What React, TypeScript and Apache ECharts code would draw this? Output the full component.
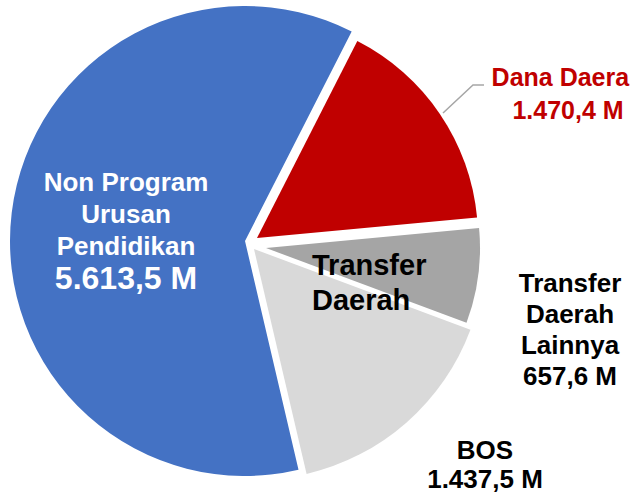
import React, { useEffect, useRef } from 'react';
import * as echarts from 'echarts';

const names = ['Dana Daerah', 'Transfer Daerah Lainnya', 'BOS', 'Non Program Urusan Pendidikan'];
const labelNames = ['Dana Daerah', 'Transfer\nDaerah\nLainnya', 'BOS', 'Non Program\nUrusan\nPendidikan'];
const values = [1470.4, 657.6, 1437.5, 5613.5];
const unit = 'M';
const groupLabel = 'Transfer\nDaerah';
const colors = ['#C00000', '#A5A5A5', '#D9D9D9', '#4472C4'];

const centers = [[257, 238], [266, 248], [254, 249], [245, 241]];
const radii = [221, 214, 231, 235];
const labelPos = [[568, 93], [570, 329], [485, 464], [126, 230]];
const labelColors = ['#C00000', '#000000', '#000000', '#ffffff'];
const nameSize = [25, 26, 26, 26];
const valueSize = [25, 26, 26, 32];
const lineH = [33, 31, 29, 32];
const FONT = '"Liberation Sans", Arial, Helvetica, sans-serif';

function fmt(v: number): string {
  const [i, d] = v.toFixed(1).split('.');
  return i.replace(/\B(?=(\d{3})+(?!\d))/g, '.') + ',' + d;
}

export default function App() {
  const ref = useRef<HTMLDivElement>(null);
  useEffect(() => {
    if (!ref.current) return;
    const chart = echarts.init(ref.current, undefined, { renderer: 'svg' });
    const series = values.map((_, k) => ({
      type: 'pie',
      center: centers[k],
      radius: radii[k],
      startAngle: 63,
      clockwise: true,
      silent: true,
      avoidLabelOverlap: false,
      data: names.map((n, i) => ({
        name: n,
        value: values[i],
        itemStyle: { color: i === k ? colors[i] : 'rgba(0,0,0,0)', borderWidth: 0 },
        label: { show: i === k },
        labelLine: { show: i === k && k === 0 },
      })),
      label: {
        position: k === 3 ? 'inside' : 'outside',
        formatter: (p: any) => {
          const idx = p.dataIndex;
          const lines = labelNames[idx].split('\n').map((l) => `{n|${l}}`).join('\n');
          return `${lines}\n{v|${fmt(values[idx])} ${unit}}`;
        },
        rich: {
          n: { fontSize: nameSize[k], fontWeight: 'bold', fontFamily: FONT, color: labelColors[k], lineHeight: lineH[k], align: 'center' },
          v: { fontSize: valueSize[k], fontWeight: 'bold', fontFamily: FONT, color: labelColors[k], lineHeight: lineH[k], align: 'center' },
        },
      },
      labelLine: { lineStyle: { color: '#A6A6A6', width: 1.5 } },
      labelLayout: () => ({
        x: labelPos[k][0],
        y: labelPos[k][1],
        align: 'center',
        verticalAlign: 'middle',
        labelLinePoints: k === 0 ? [[443, 113], [473, 85], [484, 85]] : undefined,
      }),
    }));
    chart.setOption({
      animation: false,
      backgroundColor: '#ffffff',
      series,
      graphic: [
        {
          type: 'text',
          left: 312,
          top: 247,
          z: 100,
          style: { text: groupLabel, font: `bold 29px ${FONT}`, fill: '#000000', lineHeight: 35 },
        },
      ],
    } as any);
    return () => chart.dispose();
  }, []);
  return <div ref={ref} style={{ position: 'fixed', left: 0, top: 0, width: 630, height: 493 }} />;
}
